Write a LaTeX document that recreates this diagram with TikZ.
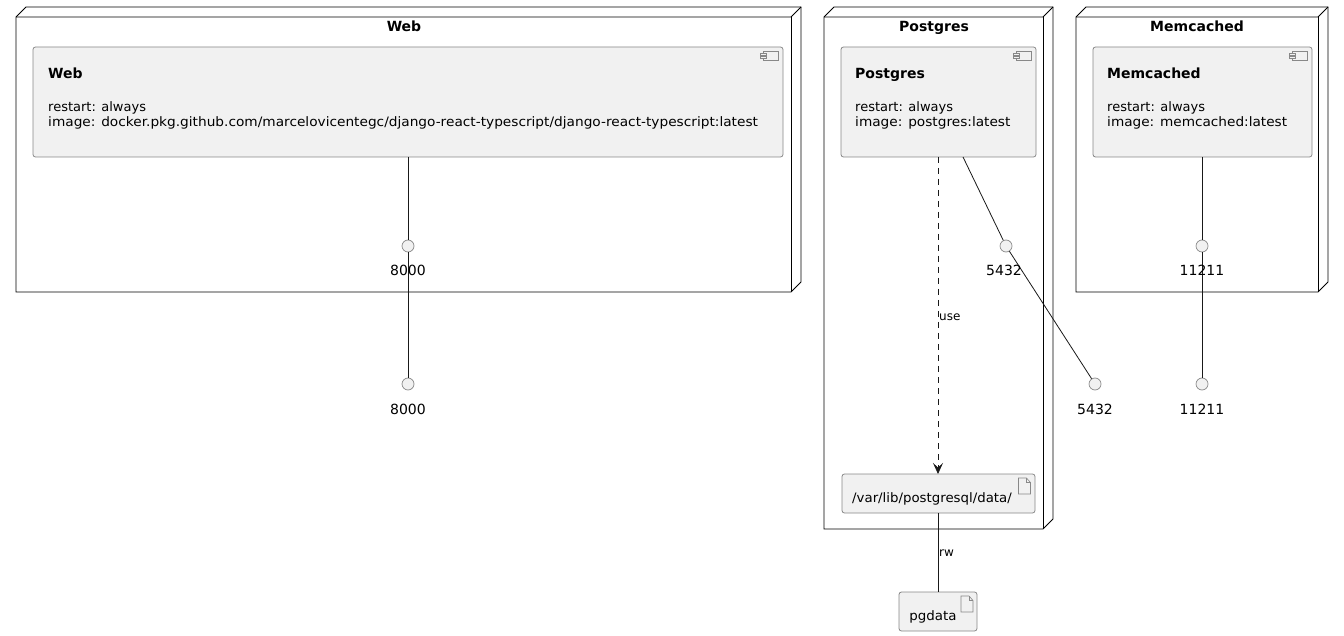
\documentclass[tikz,border=0pt]{standalone}
\usepackage{fontspec}
\setmainfont{DejaVu Sans}
\usetikzlibrary{arrows.meta}
\definecolor{boxfill}{HTML}{F1F1F1}
\definecolor{boxline}{HTML}{888888}
\tikzset{
  nodeface/.style={draw=black, line width=0.8pt, fill=white},
  comp/.style={draw=boxline, fill=boxfill, rounded corners=2.5pt, line width=0.8pt},
  port/.style={circle, draw=boxline, fill=boxfill, minimum size=12pt, inner sep=0pt, line width=0.7pt},
  portlbl/.style={font=\fontsize{14}{16}\selectfont, anchor=base},
  ntitle/.style={font=\fontsize{14}{16}\selectfont\bfseries, anchor=base},
  ctitle/.style={font=\fontsize{14}{16}\selectfont\bfseries, anchor=base west, inner sep=0pt},
  ctext/.style={font=\fontsize{13}{15}\selectfont, anchor=base west, inner sep=0pt},
  elbl/.style={font=\fontsize{12}{14}\selectfont, anchor=west, inner sep=0pt},
  conn/.style={draw=black!90, line width=0.8pt},
}
\newcommand{\nodebox}[4]{% x1 y1 x2 y2 (front face)
  \draw[nodeface] (#1,#2) -- (#1+10,#2-10) -- (#3+10,#2-10) -- (#3+10,#4-10) -- (#3,#4) -- (#1,#4) -- cycle;
  \draw[line width=0.8pt] (#1,#2) -- (#3,#2) -- (#3+10,#2-10);
  \draw[line width=0.8pt] (#3,#2) -- (#3,#4);
}
\newcommand{\compicon}[2]{% top-right corner x y
  \draw[boxline, line width=0.6pt, fill=boxfill] (#1-15,#2+1) rectangle (#1,#2+10);
  \draw[boxline, line width=0.6pt, fill=boxfill] (#1-18,#2+3) rectangle (#1-12,#2+5);
  \draw[boxline, line width=0.6pt, fill=boxfill] (#1-18,#2+6.5) rectangle (#1-12,#2+8.5);
}
\newcommand{\articon}[2]{% top-left x y
  \draw[boxline, line width=0.6pt] (#1,#2) -- (#1+8,#2) -- (#1+12,#2+4.5) -- (#1+12,#2+16) -- (#1,#2+16) -- cycle;
  \draw[boxline, line width=0.6pt] (#1+8,#2) -- (#1+8,#2+4.5) -- (#1+12,#2+4.5);
}
\newcommand{\wider}[2]{\scalebox{#1}[1]{#2}}
\begin{document}
\begin{tikzpicture}[x=1pt, y=-1pt]
\useasboundingbox[fill=white] (0,0) rectangle (1344,636);

% ---------- Web node ----------
\nodebox{16}{17}{791}{292}
\node[ntitle] (webtitle) at (404,32) {Web};
\draw[comp] (33,47) rectangle (783,157);
\coordinate (webcomp) at (408,157);
\compicon{778}{50}
\node[ctitle] (webname) at (48,79) {Web};
\node[ctext] (webr) at (48,112) {restart: always};
\node[ctext] (webi) at (48,127) {\wider{1.054}{image: docker.pkg.github.com/marcelovicentegc/django-react-typescript/django-react-typescript:latest}};

% ---------- Postgres node ----------
\nodebox{824}{17}{1043}{529}
\node[ntitle] (pgtitle) at (934,32) {Postgres};
\draw[comp] (841,47) rectangle (1036,157);
\coordinate (pgcompA) at (938,157);
\coordinate (pgcompB) at (963,157);
\compicon{1031}{50}
\node[ctitle] (pgname) at (855,79) {Postgres};
\node[ctext] (pgr) at (855,112) {restart: always};
\node[ctext] (pgi) at (855,127) {\wider{1.053}{image: postgres:latest}};

\draw[comp] (842,474) rectangle (1035,513);
\node[font=\fontsize{13}{15}\selectfont, anchor=base] (vartext) at (932,502) {\wider{1.025}{/var/lib/postgresql/data/}};
\coordinate (vartop) at (938,474);
\coordinate (varbot) at (938,513);
\articon{1018.5}{478}

% ---------- Memcached node ----------
\nodebox{1076}{17}{1318}{292}
\node[ntitle] (mctitle) at (1197,32) {Memcached};
\draw[comp] (1093,47) rectangle (1312,157);
\coordinate (mccomp) at (1202,157);
\compicon{1307}{50}
\node[ctitle] (mcname) at (1107,79) {Memcached};
\node[ctext] (mcr) at (1107,112) {restart: always};
\node[ctext] (mci) at (1107,127) {\wider{1.05}{image: memcached:latest}};

% ---------- pgdata ----------
\draw[comp] (899,592) rectangle (977,631);
\node[font=\fontsize{13}{15}\selectfont, anchor=base] (pgdtext) at (933,620) {\wider{1.03}{pgdata}};
\coordinate (pgdtop) at (938,592);
\articon{961}{596}

% ---------- ports ----------
\node[port] (p8000i) at (408,246) {};
\node[port] (p8000o) at (408,384) {};
\node[port] (p5432i) at (1006,246) {};
\node[port] (p5432o) at (1095,384) {};
\node[port] (p11211i) at (1202,246) {};
\node[port] (p11211o) at (1202,384) {};

% ---------- connectors ----------
\draw[conn] (webcomp) -- (p8000i);
\draw[conn] (p8000i) -- (p8000o);
\draw[conn] (pgcompB) -- (p5432i);
\draw[conn] (p5432i) -- (p5432o);
\draw[conn] (mccomp) -- (p11211i);
\draw[conn] (p11211i) -- (p11211o);
\draw[conn, dash pattern=on 6pt off 5pt, -{Stealth[length=11pt, width=10pt, inset=4.5pt]}] (pgcompA) -- (vartop);
\node[elbl] (uselbl) at (939,317) {use};
\draw[conn] (varbot) -- (pgdtop);
\node[elbl] (rwlbl) at (939,553) {rw};

% port labels
\node[portlbl] (l8000i) at (408,276) {8000};
\node[portlbl] (l8000o) at (408,414) {8000};
\node[portlbl] (l5432i) at (1004,276) {5432};
\node[portlbl] (l5432o) at (1095,414) {5432};
\node[portlbl] (l11211i) at (1202,276) {11211};
\node[portlbl] (l11211o) at (1202,414) {11211};
\end{tikzpicture}
\end{document}
